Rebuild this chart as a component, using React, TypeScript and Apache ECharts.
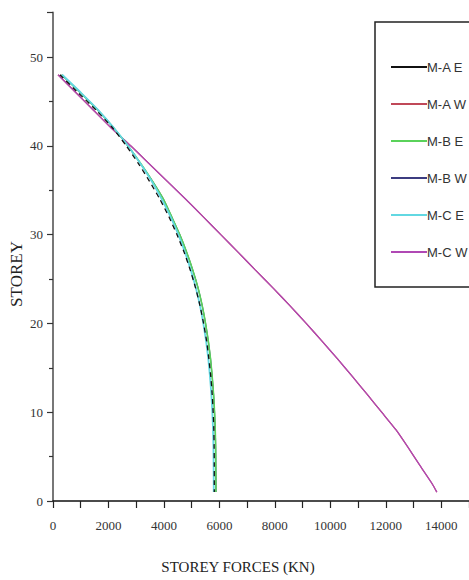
import React, { useEffect, useRef } from "react";
import * as echarts from "echarts";

const storeys = [48, 46, 44, 42, 40, 38, 36, 34, 32, 30, 28, 26, 24, 22, 20, 18, 16, 14, 12, 10, 8, 6, 4, 2, 1];

const forceMAE = [250, 900, 1560, 2150, 2640, 3080, 3480, 3850, 4180, 4470, 4730, 4950, 5140, 5300, 5430, 5540, 5620, 5690, 5740, 5775, 5800, 5810, 5815, 5815, 5815];
const forceMAW = [180, 820, 1460, 2100, 2800, 3460, 4120, 4780, 5420, 6050, 6680, 7300, 7930, 8540, 9130, 9700, 10260, 10800, 11330, 11850, 12370, 12810, 13230, 13660, 13840];
const forceMBE = [310, 980, 1620, 2190, 2700, 3160, 3590, 3980, 4280, 4570, 4820, 5040, 5230, 5380, 5500, 5600, 5680, 5740, 5790, 5825, 5850, 5865, 5870, 5875, 5875];
const forceMBW = [310, 980, 1620, 2190, 2700, 3160, 3590, 3980, 4280, 4570, 4820, 5040, 5230, 5380, 5500, 5600, 5680, 5740, 5790, 5825, 5850, 5865, 5870, 5875, 5875];
const forceMCE = [330, 1000, 1640, 2200, 2700, 3150, 3560, 3920, 4240, 4520, 4760, 4970, 5150, 5300, 5420, 5520, 5600, 5660, 5710, 5745, 5770, 5785, 5790, 5795, 5795];
const forceMCW = [180, 820, 1460, 2100, 2800, 3460, 4120, 4780, 5420, 6050, 6680, 7300, 7930, 8540, 9130, 9700, 10260, 10800, 11330, 11850, 12370, 12810, 13230, 13660, 13840];

const seriesNames = ["M-A E", "M-A W", "M-B E", "M-B W", "M-C E", "M-C W"];
const seriesColors = ["#111111", "#c04858", "#5ad25a", "#3c3c80", "#62d8e2", "#b048b4"];

const xTitle = "STOREY FORCES (KN)";
const yTitle = "STOREY";

export default function App() {
  const ref = useRef<HTMLDivElement>(null);
  useEffect(() => {
    if (!ref.current) return;
    const chart = echarts.init(ref.current, null, { renderer: "svg" });
    const all = [forceMAE, forceMAW, forceMBE, forceMBW, forceMCE, forceMCW];
    const widths = [1.3, 1.2, 1.6, 1.2, 1.8, 1.3];
    const zs = [5, 1, 3, 2, 4, 2];
    const series = all.map((vals, i) => ({
      name: seriesNames[i],
      type: "line",
      data: vals.map((v, j) => [v, storeys[j]]),
      showSymbol: false,
      symbol: "none",
      smooth: 0.2,
      z: zs[i],
      lineStyle: {
        color: seriesColors[i],
        width: widths[i],
        type: i === 0 ? [5, 4] : "solid",
      },
      itemStyle: { color: seriesColors[i] },
    }));
    const serif = "'Liberation Serif', 'Times New Roman', serif";
    chart.setOption({
      animation: false,
      backgroundColor: "#ffffff",
      grid: { left: 53, right: 0, top: 12.6, bottom: 79, containLabel: false },
      xAxis: {
        type: "value",
        min: 0,
        max: 15000,
        interval: 2000,
        splitLine: { show: false },
        axisLine: { lineStyle: { color: "#111", width: 1.5 } },
        axisTick: { show: true, length: 7, lineStyle: { color: "#222", width: 1.2 } },
        minorTick: { show: true, splitNumber: 2, length: 7, lineStyle: { color: "#222", width: 1.2 } },
        axisLabel: {
          color: "#333",
          fontFamily: serif,
          fontSize: 13,
          margin: 18,
          showMaxLabel: false,
          formatter: (v: number) => String(v),
        },
      },
      yAxis: {
        type: "value",
        min: 0,
        max: 55,
        interval: 10,
        splitLine: { show: false },
        axisLine: { lineStyle: { color: "#777", width: 2 } },
        axisTick: { show: true, length: 6, lineStyle: { color: "#333", width: 1.2 } },
        minorTick: { show: true, splitNumber: 2, length: 4, lineStyle: { color: "#333", width: 1.2 } },
        axisLabel: { color: "#333", fontFamily: serif, fontSize: 13, margin: 10, showMaxLabel: false },
      },
      legend: {
        orient: "vertical",
        left: 386,
        top: 52,
        itemWidth: 36,
        itemHeight: 2,
        itemGap: 17,
        icon: "rect",
        data: seriesNames,
        selectedMode: false,
        textStyle: {
          fontFamily: "'Liberation Sans Narrow', 'Liberation Sans', sans-serif",
          fontSize: 13,
          lineHeight: 20,
          color: "#333",
          padding: [0, 0, 0, -5],
        },
        z: 6,
      },
      graphic: [
        {
          type: "rect",
          z: 4,
          shape: { x: 375, y: 22, width: 140, height: 265 },
          style: { fill: "#ffffff", stroke: "#222", lineWidth: 1.5 },
        },
        {
          type: "text",
          x: 238,
          y: 567,
          style: { text: xTitle, font: `15px ${serif}`, fill: "#222", align: "center", verticalAlign: "middle" },
        },
        {
          type: "text",
          x: 16,
          y: 274,
          rotation: Math.PI / 2,
          style: { text: yTitle, font: `17px ${serif}`, fill: "#222", align: "center", verticalAlign: "middle" },
        },
      ],
      series,
    });
    return () => chart.dispose();
  }, []);
  return <div ref={ref} style={{ position: "fixed", left: 0, top: 0, width: 469, height: 580 }} />;
}
